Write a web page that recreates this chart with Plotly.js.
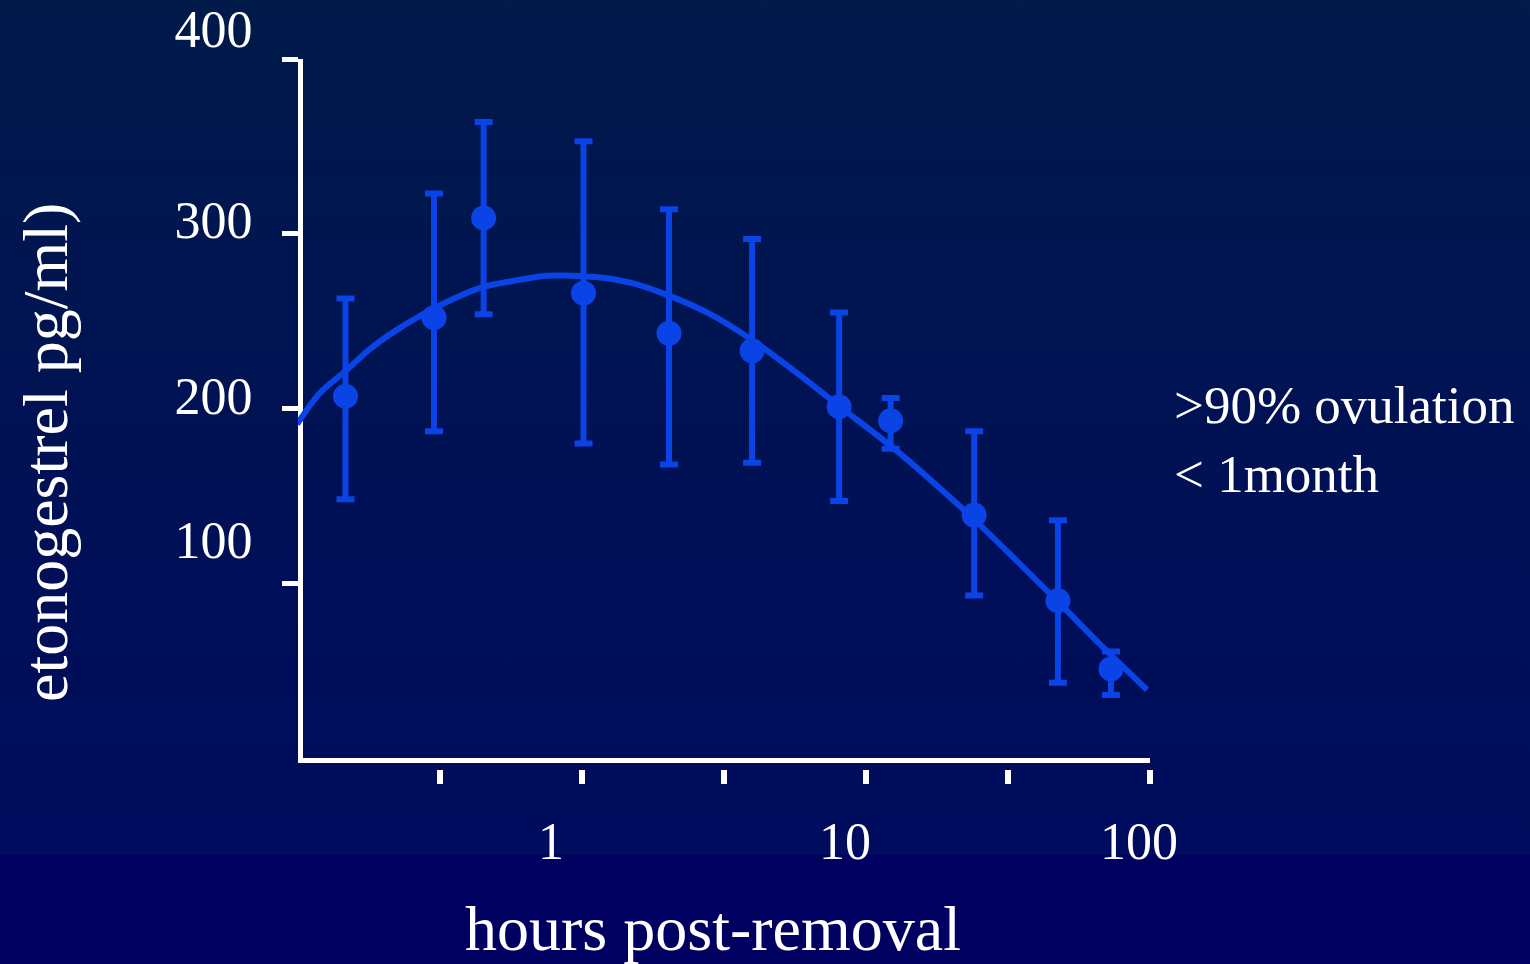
<!DOCTYPE html>
<html>
<head>
<meta charset="utf-8">
<script src="https://cdn.plot.ly/plotly-3.0.1.min.js"></script>
<style>
  html, body { margin: 0; padding: 0; }
  body {
    width: 1530px; height: 964px; overflow: hidden;
    background: linear-gradient(to bottom, #001a4a 0px, #000f58 600px, #000c5e 855px, #000060 855px, #000062 964px);
  }
  #chart { width: 1530px; height: 964px; }
</style>
</head>
<body>
<div id="chart"></div>
<script>
// ---- data ----
const hoursPts   = [0.2, 0.4, 0.59, 1.29, 2.52, 4.83, 9.55, 14.3, 27.5, 53, 80.3];
const meanPts    = [207, 252, 309, 266, 243, 233, 201, 193, 139, 90, 51];
const errUp      = [56, 71, 55, 87, 71, 64, 54, 13, 48, 46, 10];
const errDown    = [59, 65, 55, 86, 75, 64, 54, 16, 46, 47, 15];

const fitHours   = [0.137, 0.164, 0.202, 0.242, 0.299, 0.397, 0.574, 0.743, 0.969, 1.16, 1.47,
                    1.86, 2.48, 3.48, 4.75, 7.03, 9.61, 14.2, 19.9, 27.3, 52.6, 73.7, 106.5];
const fitValues  = [191, 209, 222, 234, 245, 257, 269, 273, 276, 276, 275,
                    272, 265, 254, 240, 219, 201, 179, 158, 137, 90, 65, 39];

const xTickVals  = [1, 10, 100];
const xTickText  = ['1', '10', '100'];
const yTickVals  = [100, 200, 300, 400];
const yTickText  = ['100', '200', '300', '400'];
const xMarkSteps = 6;   // detached tick marks: one per step, none at the left corner

const xTitle = 'hours post-removal';
const yTitle = 'etonogestrel pg/ml)';
const noteText = '&gt;90% ovulation<br>&lt; 1month';

// ---- styling ----
const BLUE = '#0a43e6';
const WHITE = '#ffffff';
const FONT = '"Liberation Serif", "Times New Roman", serif';

// plot geometry (px)
const W = 1530, H = 964;
const L = 298, R = 1150, T = 0, B = 783;
const plotH = B - T;
const yZeroPx = 758, yTopPx = 59, xTickPx = 769;
const dom = [(B - yZeroPx) / plotH, (B - yTopPx) / plotH];
const yPerPx = 400 / (yZeroPx - yTopPx);
const pxToY = p => (yZeroPx - p) * yPerPx;
const decadePx = 294, onePx = 551;
const xRange = [(L - onePx) / decadePx, (R - onePx) / decadePx];
const px = x => (x - L) / (R - L);
const py = y => (B - y) / plotH;

// evenly spaced detached tick marks along the x axis (log positions)
const eps = 0.5 / decadePx;
const markTickVals = [];
for (let k = 1; k <= xMarkSteps; k++) {
  const lv = xRange[0] + (k / xMarkSteps) * (xRange[1] - xRange[0]) - (k === xMarkSteps ? eps : 0);
  markTickVals.push(Math.pow(10, lv));
}

const traces = [
  // fitted curve (on y2, which shares the same value scale as y)
  {
    type: 'scatter', mode: 'lines',
    x: fitHours, y: fitValues, xaxis: 'x', yaxis: 'y2',
    line: { color: BLUE, width: 6, shape: 'spline', smoothing: 1 },
    hoverinfo: 'skip', showlegend: false
  },
  // error bars (on x2/y3, which share the same scales as x/y)
  {
    type: 'scatter', mode: 'markers',
    x: hoursPts, y: meanPts, xaxis: 'x2', yaxis: 'y3',
    marker: { color: BLUE, size: 1, opacity: 0 },
    error_y: { type: 'data', symmetric: false, array: errUp, arrayminus: errDown,
               color: BLUE, thickness: 6, width: 9 },
    hoverinfo: 'skip', showlegend: false
  },
  // mean points
  {
    type: 'scatter', mode: 'markers',
    x: hoursPts, y: meanPts, xaxis: 'x', yaxis: 'y',
    marker: { color: BLUE, size: 25 },
    showlegend: false
  }
];

const layout = {
  width: W, height: H,
  margin: { l: L, r: W - R, t: T, b: H - B, pad: 0 },
  paper_bgcolor: 'rgba(0,0,0,0)',
  plot_bgcolor: 'rgba(0,0,0,0)',
  showlegend: false,
  font: { family: FONT, color: WHITE, size: 52 },
  xaxis: {
    type: 'log', range: xRange, anchor: 'y', domain: [0, 1],
    showline: true, linecolor: WHITE, linewidth: 5,
    showgrid: false, zeroline: false,
    tickmode: 'array', tickvals: xTickVals, ticktext: xTickText,
    ticks: 'outside', ticklen: 34, tickcolor: 'rgba(0,0,0,0)',
    tickfont: { family: FONT, size: 52, color: WHITE }
  },
  yaxis: {
    domain: dom, range: [0, 400], anchor: 'free', position: 2 / (R - L),
    showline: true, linecolor: WHITE, linewidth: 5,
    showgrid: false, zeroline: false,
    tickmode: 'array', tickvals: yTickVals,
    ticks: 'outside', ticklen: 16, tickwidth: 5, tickcolor: WHITE,
    showticklabels: false
  },
  // y tick labels, set where the reference prints them (same value scale as y)
  yaxis2: {
    domain: [dom[0], 1], range: [0, pxToY(T)], anchor: 'x',
    showline: false, showgrid: false, zeroline: false,
    tickmode: 'array',
    tickvals: [pxToY(540), pxToY(396), pxToY(220), pxToY(28.5)],
    ticktext: yTickText,
    ticks: 'outside', ticklen: 34, tickcolor: 'rgba(0,0,0,0)',
    tickfont: { family: FONT, size: 52, color: WHITE }
  },
  // detached x tick marks below the axis line (same value scales as x/y)
  yaxis3: {
    domain: [(B - xTickPx) / plotH, 1], range: [pxToY(xTickPx), pxToY(T)], anchor: 'x2',
    showline: false, showgrid: false, zeroline: false,
    ticks: '', showticklabels: false
  },
  xaxis2: {
    type: 'log', range: xRange, domain: [0, 1], anchor: 'y3',
    tickmode: 'array', tickvals: markTickVals,
    ticks: 'outside', ticklen: 14, tickwidth: 6, tickcolor: WHITE,
    showticklabels: false, showline: false, showgrid: false, zeroline: false
  },
  annotations: [
    {
      text: xTitle, xref: 'paper', yref: 'paper',
      x: px(713), y: py(928), xanchor: 'center', yanchor: 'middle',
      showarrow: false, font: { family: FONT, size: 64, color: WHITE }
    },
    {
      text: yTitle, xref: 'paper', yref: 'paper', textangle: -90,
      x: px(45), y: py(453), xanchor: 'center', yanchor: 'middle',
      showarrow: false, font: { family: FONT, size: 64, color: WHITE }
    },
    {
      text: noteText, xref: 'paper', yref: 'paper', align: 'left',
      x: px(1172), y: py(440), xanchor: 'left', yanchor: 'middle',
      showarrow: false, font: { family: FONT, size: 53, color: WHITE }
    }
  ]
};

Plotly.newPlot('chart', traces, layout, { displayModeBar: false, staticPlot: true });
</script>
</body>
</html>
